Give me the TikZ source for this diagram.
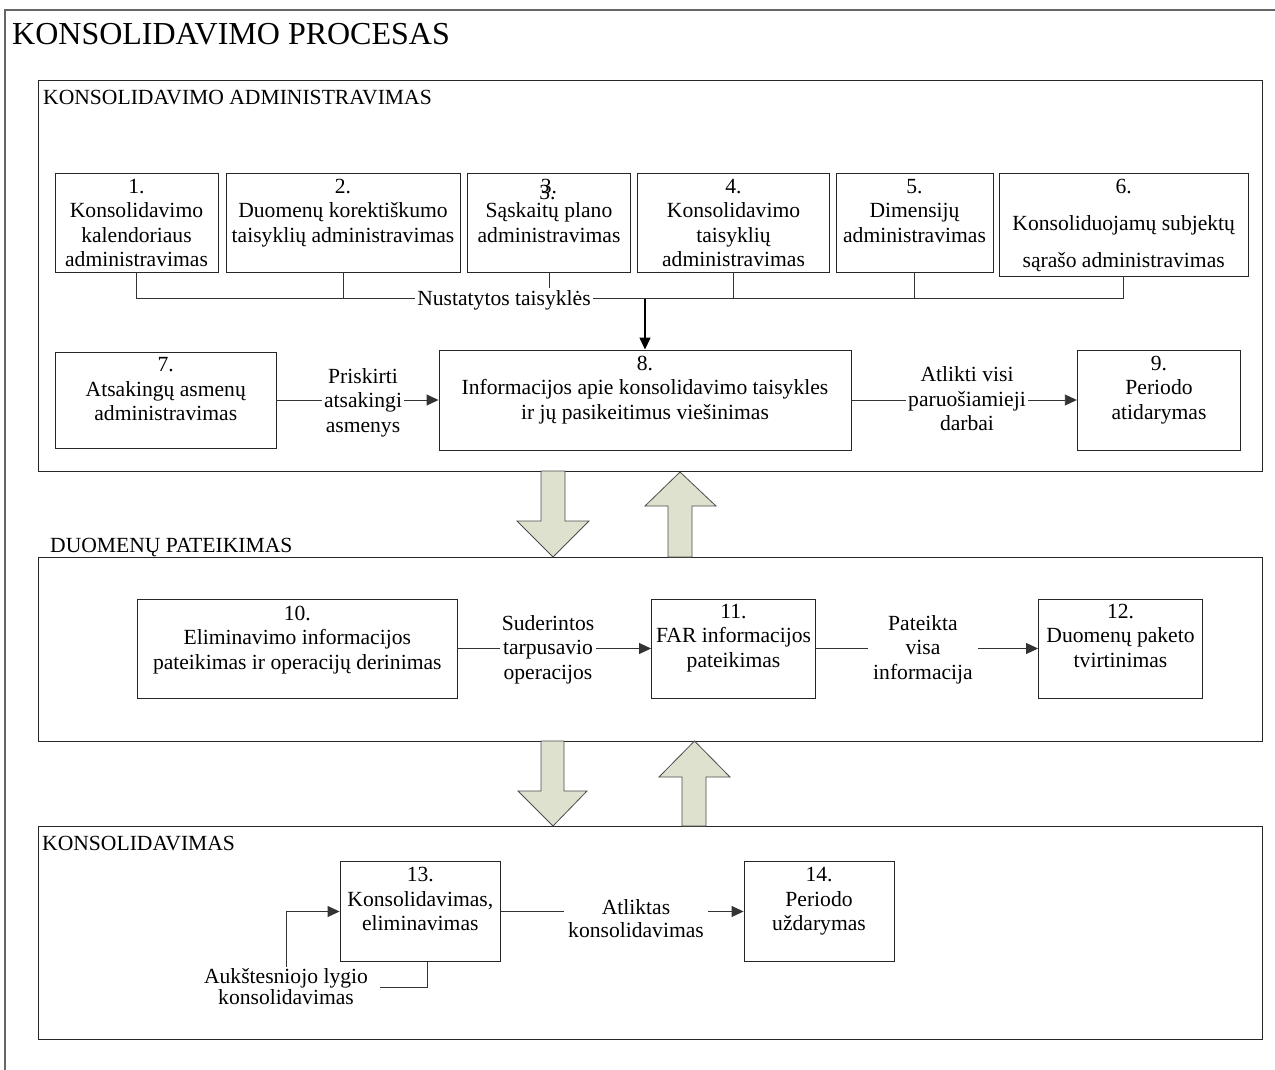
\documentclass[tikz,border=0pt]{standalone}
\usepackage{fontspec}
\setmainfont{Liberation Serif}
\usetikzlibrary{arrows.meta}
\definecolor{arrowfill}{RGB}{222,225,205}
\newcommand{\fsz}{\fontsize{21.6}{24.5}\selectfont}
\begin{document}
\begin{tikzpicture}[x=1pt,y=-1pt,
  box/.style={draw=black!85, line width=0.9pt, inner sep=0pt},
  section/.style={draw=black!85, line width=0.9pt},
  txt/.style={font=\fsz, align=center, inner sep=0pt, anchor=north},
  lab/.style={font=\fsz, align=center, fill=white, inner xsep=2pt, inner ysep=0pt, anchor=north},
  sectitle/.style={font=\fsz, inner sep=0pt, anchor=base west},
  conn/.style={draw=black!80, line width=0.9pt},
  arr/.style={conn, -{Triangle[length=12pt,width=11pt]}},
  bigarrow/.style={draw=black!70, line width=0.8pt, fill=arrowfill, line join=miter}]
\useasboundingbox (0,0) rectangle (1275,1070);
% outer frame
\draw[draw=black!60, line width=1.2pt] (1275,10) -- (5,10) -- (5,1070);
\node[inner sep=0pt, anchor=base west, font=\fontsize{32}{38}\selectfont] (title) at (12,45) {KONSOLIDAVIMO PROCESAS};

% sections
\draw[section] (38,80) rectangle (1262,471);
\draw[section] (38,557) rectangle (1262,741);
\draw[section] (38,826) rectangle (1262,1039);
\node[sectitle] (s1) at (43,105) {KONSOLIDAVIMO ADMINISTRAVIMAS};
\node[sectitle] (s2) at (50,552) {DUOMENŲ PATEIKIMAS};
\node[sectitle] (s3) at (42,850.5) {KONSOLIDAVIMAS};

% big arrows
\draw[bigarrow] (541,471) -- (565,471) -- (565,521) -- (589,521) -- (553,557) -- (517,521) -- (541,521) -- cycle;
\draw[bigarrow] (668,557) -- (668,506) -- (645,506) -- (680,472) -- (716,506) -- (692,506) -- (692,557) -- cycle;
\draw[bigarrow] (541,741) -- (564,741) -- (564,791) -- (587,791) -- (553,826) -- (518,791) -- (541,791) -- cycle;
\draw[bigarrow] (682,826) -- (682,777) -- (659,777) -- (694.5,741) -- (730,777) -- (706,777) -- (706,826) -- cycle;

% row 1 boxes
\node[box, minimum width=163pt, minimum height=99pt] (b1) at (136.5,222.5) {};
\node[box, minimum width=234pt, minimum height=99pt] (b2) at (343,222.5) {};
\node[box, minimum width=163.5pt, minimum height=99pt] (b3) at (549,222.5) {};
\node[box, minimum width=192pt, minimum height=99pt] (b4) at (733.5,222.5) {};
\node[box, minimum width=157pt, minimum height=99pt] (b5) at (914.5,222.5) {};
\node[box, minimum width=248.5pt, minimum height=103pt] (b6) at (1123.7,224.5) {};
\node[txt] (t1) at (136.5,175.85) {\strut 1.\\Konsolidavimo\\kalendoriaus\\administravimas};
\node[txt] (t2) at (343,175.85) {\strut 2.\\Duomenų korektiškumo\\taisyklių administravimas};
\node[txt] (t3) at (549,175.85) {\strut 3.\\Sąskaitų plano\\administravimas};
\node[txt] (t3b) at (547.5,182) {\strut 3.};
\node[txt] (t4) at (733.5,175.85) {\strut 4.\\Konsolidavimo\\taisyklių\\administravimas};
\node[txt] (t5) at (914.5,175.85) {\strut 5.\\Dimensijų\\administravimas};
\node[txt] (t6) at (1123.7,175.85) {\strut 6.\\[12.5pt]Konsoliduojamų subjektų\\[12.5pt]sąrašo administravimas};

% bus of rules
\coordinate (bus) at (0,298.5);
\draw[conn] (b1.south) -- (b1.south |- bus) -- (b6.south |- bus) -- (b6.south);
\draw[conn] (b2.south) -- (b2.south |- bus);
\draw[conn] (b3.south) -- (b3.south |- bus);
\draw[conn] (b4.south) -- (b4.south |- bus);
\draw[conn] (b5.south) -- (b5.south |- bus);
\node[lab] (lnt) at (504,287.85) {\strut Nustatytos taisyklės};

% row 2 boxes
\node[box, minimum width=220.5pt, minimum height=96pt] (b7) at (165.75,400) {};
\node[box, minimum width=412pt, minimum height=100pt] (b8) at (645,400) {};
\node[box, minimum width=163.5pt, minimum height=100pt] (b9) at (1159,400) {};
\node[txt] (t7) at (165.75,354.35) {\strut 7.\\Atsakingų asmenų\\administravimas};
\node[txt] (t8) at (645,352.85) {\strut 8.\\Informacijos apie konsolidavimo taisykles\\ir jų pasikeitimus viešinimas};
\node[txt] (t9) at (1159,352.85) {\strut 9.\\Periodo\\atidarymas};
\draw[arr, line width=1.4pt, draw=black] (b8.north |- bus) -- (b8.north);
\draw[arr] (b7.east) -- (b8.west);
\draw[arr] (b8.east) -- (b9.west);
\node[lab] (l78) at (363,365.85) {\strut Priskirti\\atsakingi\\asmenys};
\node[lab] (l89) at (967,364.5) {\strut Atlikti visi\\paruošiamieji\\darbai};

% section 2 boxes
\node[box, minimum width=319.5pt, minimum height=99pt] (b10) at (297.25,648.5) {};
\node[box, minimum width=164pt, minimum height=99pt] (b11) at (733.5,648.5) {};
\node[box, minimum width=164pt, minimum height=99pt] (b12) at (1120.5,648.5) {};
\node[txt] (t10) at (297.25,602.85) {\strut 10.\\Eliminavimo informacijos\\pateikimas ir operacijų derinimas};
\node[txt] (t11) at (733.5,600.85) {\strut 11.\\FAR informacijos\\pateikimas};
\node[txt] (t12) at (1120.5,600.85) {\strut 12.\\Duomenų paketo\\tvirtinimas};
\draw[arr] (b10.east) -- (b11.west);
\draw[arr] (b11.east) -- (b12.west);
\node[lab] (l1011) at (548,612.85) {\strut Suderintos\\tarpusavio\\operacijos};
\node[lab, inner xsep=5pt] (l1112) at (923,612.85) {\strut Pateikta\\visa\\informacija};

% section 3 boxes
\node[box, minimum width=160.6pt, minimum height=99.3pt] (b13) at (420.3,911.5) {};
\node[box, minimum width=150pt, minimum height=99.3pt] (b14) at (819,911.5) {};
\node[txt] (t13) at (420.3,864.55) {\strut 13.\\Konsolidavimas,\\eliminavimas};
\node[txt] (t14) at (819,864.55) {\strut 14.\\Periodo\\uždarymas};
\draw[arr] (b13.east) -- (b14.west);
\node[lab, inner xsep=4pt] (l1314) at (636,896.85) {\strut Atliktas\\[-1.5pt]konsolidavimas};

% loop
\node[txt] (lloop) at (286,966.15) {\strut Aukštesniojo lygio\\[-3.5pt]konsolidavimas};
\coordinate (lpA) at (380,987.7);
\coordinate (lpB) at (286,966.7);
\draw[conn] ([xshift=7.4pt]b13.south) |- (lpA);
\draw[arr] (lpB) |- (b13.west);
\end{tikzpicture}
\end{document}
